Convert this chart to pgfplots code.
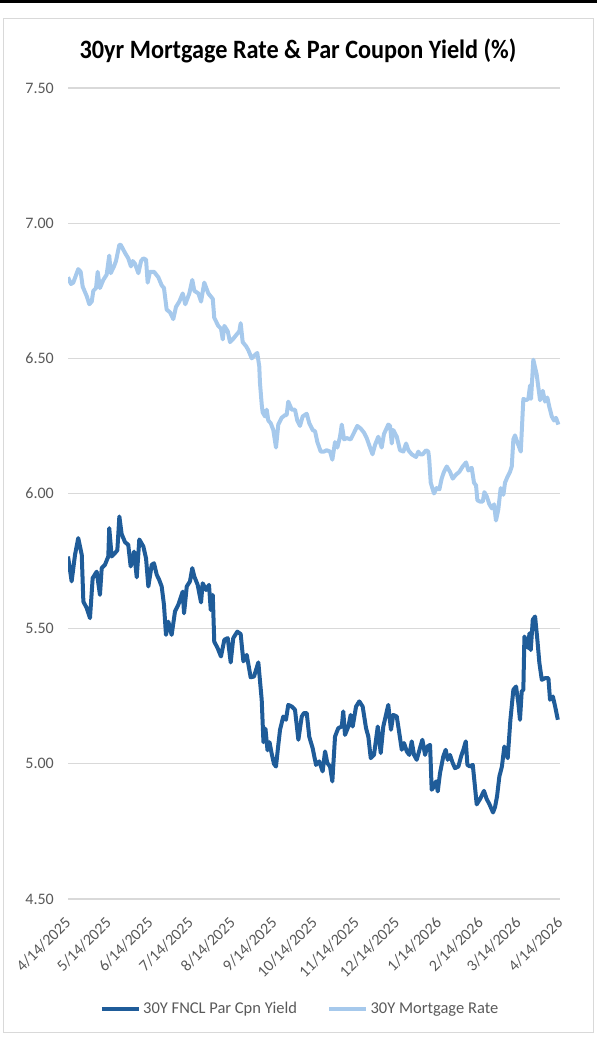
\documentclass[border=0pt]{standalone}
\usepackage{fontspec}
\setmainfont{Carlito}
\usepackage{pgfplots}
\pgfplotsset{compat=1.18}
\definecolor{darkser}{HTML}{1F5C99}
\definecolor{lightser}{HTML}{A6C9EC}
\definecolor{gridc}{HTML}{D9D9D9}
\definecolor{tickc}{HTML}{595959}
\definecolor{framec}{HTML}{D9D9D9}
\begin{document}
\begin{tikzpicture}
\path[use as bounding box] (0pt,0pt) rectangle (597pt,1038pt);
\draw[black, line width=3pt] (0pt,1036.5pt) -- (597pt,1036.5pt);
\draw[framec, line width=1pt] (3.5pt,5pt) rectangle (593pt,1019pt);
\node[font=\fontsize{26.5}{30}\selectfont\bfseries, anchor=center] at (298pt,987pt) {\scalebox{0.915}[1]{30yr Mortgage Rate \& Par Coupon Yield (\%)}};
\begin{axis}[
  at={(68pt,139pt)}, anchor=south west,
  scale only axis, width=492pt, height=811pt,
  xmin=0, xmax=365, ymin=4.5, ymax=7.5,
  ytick={4.5,5,5.5,6,6.5,7,7.5},
  xtick={0,30,61,91,122,153,183,214,244,275,306,334,365},
  xticklabels={4/14/2025,5/14/2025,6/14/2025,7/14/2025,8/14/2025,9/14/2025,10/14/2025,11/14/2025,12/14/2025,1/14/2026,2/14/2026,3/14/2026,4/14/2026},
  /pgf/number format/assume math mode=true,
  yticklabel style={/pgf/number format/fixed, /pgf/number format/fixed zerofill, /pgf/number format/precision=2, anchor=east, inner sep=0pt, font=\fontsize{16}{19}\selectfont, text=tickc},
  yticklabel shift=14pt,
  xticklabel style={rotate=45, anchor=east, inner sep=0pt, font=\fontsize{16}{19}\selectfont, text=tickc},
  xticklabel shift=21pt,
  ymajorgrids, major grid style={gridc, line width=1.2pt},
  axis line style={draw=none}, major tick length=0pt,
  legend style={at={(0.5,-0.1356)}, anchor=center, xshift=-14pt, draw=none, fill=none, legend columns=2, font=\fontsize{16.5}{19}\selectfont, text=tickc, /tikz/every even column/.append style={column sep=28pt}},
  legend cell align=left,
  legend image code/.code={\draw[#1, line width=4.5pt] (0pt,0pt) -- (37pt,0pt);},
]
\addplot[darkser, line width=4pt, line join=round] coordinates {
(0,5.767)(2.7,5.675)(5.2,5.773)(7.6,5.835)(10.2,5.773)(11.4,5.60)(13.9,5.576)(16.3,5.539)(18.3,5.687)(21.3,5.711)(23.7,5.625)(25.0,5.724)(27.4,5.736)(29.9,5.767)(30.6,5.872)(32.4,5.767)(34.9,5.78)(36.6,5.79)(38.1,5.915)(39.8,5.85)(42.3,5.82)(44.7,5.81)(46.5,5.73)(49.0,5.785)(51.0,5.69)(52.9,5.83)(55.9,5.804)(57.9,5.76)(59.6,5.656)(62.1,5.736)(63.8,5.742)(65.8,5.70)(67.7,5.68)(69.5,5.656)(71.2,5.588)(72.7,5.477)(74.4,5.526)(76.9,5.477)(79.4,5.564)(81.8,5.588)(85.1,5.637)(86.1,5.557)(88.1,5.656)(90.5,5.675)(92.2,5.724)(93.7,5.693)(96.2,5.662)(98.7,5.597)(99.9,5.668)(102.4,5.643)(104.6,5.662)(105.9,5.569)(107.4,5.625)(108.5,5.452)(111.0,5.428)(113.5,5.397)(116.0,5.459)(118.5,5.465)(120.7,5.375)(122.6,5.465)(125.6,5.489)(128.1,5.48)(130.1,5.379)(132.6,5.403)(135.5,5.32)(138.0,5.323)(141.2,5.375)(143.7,5.237)(145.0,5.08)(146.5,5.13)(148.0,5.05)(149.5,5.08)(151.0,5.04)(152.8,5.00)(154.3,4.99)(155.8,5.06)(157.3,5.126)(159.7,5.175)(161.7,5.163)(163.4,5.218)(166.0,5.212)(168.4,5.20)(170.9,5.089)(173.4,5.175)(175.1,5.188)(177.1,5.188)(179.0,5.10)(181.5,5.058)(184.0,4.996)(186.4,5.009)(188.9,4.972)(190.7,5.046)(192.4,5.003)(194.4,4.99)(196.1,4.935)(198.1,5.101)(200.5,5.132)(203.1,5.138)(204.2,5.194)(205.5,5.107)(208.0,5.138)(209.7,5.181)(211.2,5.138)(213.7,5.212)(216.1,5.231)(218.6,5.212)(221.1,5.132)(222.8,5.101)(224.6,5.021)(227.0,5.033)(229.8,5.138)(232.0,5.04)(233.9,5.138)(235.9,5.181)(237.6,5.218)(239.6,5.126)(241.3,5.181)(243.9,5.175)(245.8,5.113)(247.6,5.052)(249.3,5.077)(251.3,5.046)(253.2,5.033)(255.0,5.083)(256.7,5.033)(258.7,5.015)(261.1,5.058)(262.9,5.089)(264.9,5.033)(266.6,5.064)(268.6,5.07)(269.8,4.904)(271.5,4.916)(273.0,4.935)(274.3,4.898)(276.0,4.966)(278.4,5.027)(280.2,5.052)(281.7,5.015)(283.4,5.033)(285.4,5.003)(287.1,4.984)(289.6,4.99)(291.6,5.027)(293.3,5.052)(295.1,5.083)(296.3,4.996)(298.2,4.99)(300.3,4.996)(301.4,4.941)(303.2,4.85)(305.7,4.87)(308.6,4.90)(310.6,4.87)(312.7,4.85)(315.3,4.82)(316.8,4.84)(318.3,4.88)(320.0,4.953)(321.9,4.99)(323.7,5.064)(326.2,5.021)(328.2,5.163)(330.4,5.274)(332.4,5.286)(334.1,5.225)(335.3,5.163)(336.6,5.268)(337.8,5.274)(338.6,5.471)(340.3,5.446)(341.5,5.428)(342.3,5.483)(343.3,5.421)(344.8,5.533)(346.5,5.545)(348.2,5.459)(349.7,5.373)(351.5,5.311)(353.9,5.317)(356.4,5.317)(357.6,5.237)(359.7,5.249)(361.4,5.212)(363.4,5.163)
};
\addlegendentry{30Y FNCL Par Cpn Yield}
\addplot[lightser, line width=4pt, line join=round] coordinates {
(0,6.80)(2.2,6.775)(3.9,6.78)(7.6,6.83)(9.4,6.82)(10.9,6.765)(13.9,6.73)(15.8,6.70)(17.6,6.71)(18.8,6.75)(20.8,6.76)(22.0,6.82)(23.7,6.76)(26.2,6.79)(28.7,6.81)(30.6,6.88)(31.7,6.815)(34.1,6.84)(35.6,6.86)(38.1,6.92)(39.1,6.92)(42.3,6.89)(44.7,6.87)(46.7,6.84)(48.0,6.86)(49.7,6.85)(52.2,6.815)(54.2,6.86)(55.9,6.87)(57.9,6.865)(59.1,6.78)(60.8,6.82)(63.8,6.82)(67.0,6.80)(69.5,6.77)(71.2,6.76)(73.2,6.68)(75.7,6.67)(78.1,6.645)(80.1,6.69)(82.6,6.71)(85.1,6.74)(87.0,6.70)(90.0,6.74)(92.2,6.79)(93.7,6.75)(96.7,6.74)(98.7,6.71)(101.1,6.78)(104.1,6.74)(107.4,6.72)(108.5,6.65)(111.5,6.62)(113.5,6.61)(114.8,6.57)(116.0,6.62)(118.5,6.60)(120.2,6.56)(122.2,6.57)(124.6,6.585)(127.1,6.60)(128.1,6.63)(129.6,6.56)(132.1,6.545)(133.8,6.53)(136.3,6.50)(138.2,6.51)(140.4,6.52)(141.9,6.47)(142.4,6.41)(143.7,6.33)(144.4,6.30)(146.2,6.285)(147.4,6.31)(148.6,6.27)(150.4,6.26)(152.3,6.235)(154.3,6.17)(156.0,6.255)(158.5,6.28)(161.0,6.29)(162.2,6.29)(163.4,6.34)(166.0,6.31)(168.4,6.31)(170.1,6.27)(172.1,6.25)(174.1,6.285)(177.1,6.295)(179.0,6.26)(181.5,6.235)(183.3,6.23)(185.0,6.19)(187.5,6.155)(189.9,6.155)(191.9,6.16)(194.4,6.155)(196.1,6.125)(198.1,6.19)(199.8,6.17)(201.8,6.21)(203.1,6.255)(204.8,6.20)(206.8,6.205)(209.7,6.20)(212.2,6.225)(214.6,6.25)(217.2,6.24)(219.6,6.225)(221.6,6.205)(224.1,6.17)(225.9,6.145)(227.8,6.18)(230.2,6.21)(232.7,6.17)(234.4,6.22)(237.6,6.255)(238.9,6.25)(240.2,6.185)(241.3,6.235)(243.9,6.21)(246.3,6.16)(248.8,6.155)(250.8,6.185)(252.5,6.16)(255.0,6.145)(258.2,6.135)(259.9,6.155)(261.1,6.145)(263.2,6.145)(265.6,6.16)(267.3,6.155)(268.0,6.125)(269.1,6.04)(271.5,6.00)(273.5,6.02)(275.5,6.015)(277.2,6.055)(278.9,6.08)(281.0,6.10)(283.4,6.08)(285.4,6.055)(287.9,6.07)(290.3,6.08)(292.8,6.10)(295.3,6.115)(297.0,6.085)(299.5,6.095)(301.2,6.04)(302.7,6.03)(303.7,5.975)(305.7,5.97)(307.7,5.97)(308.9,6.005)(310.6,5.99)(312.6,5.96)(314.4,5.945)(316.1,5.96)(317.5,5.90)(319.2,5.94)(321.0,6.02)(323.0,5.995)(324.2,6.04)(325.9,6.06)(327.9,6.08)(329.2,6.10)(330.4,6.20)(331.6,6.215)(333.3,6.19)(335.9,6.155)(337.8,6.35)(339.8,6.345)(341.5,6.35)(342.8,6.40)(343.5,6.35)(345.2,6.495)(347.7,6.44)(350.2,6.345)(352.2,6.38)(353.9,6.34)(355.6,6.355)(357.1,6.32)(358.9,6.285)(360.6,6.27)(362.0,6.28)(363.8,6.255)
};
\addlegendentry{30Y Mortgage Rate}
\end{axis}
\end{tikzpicture}
\end{document}
